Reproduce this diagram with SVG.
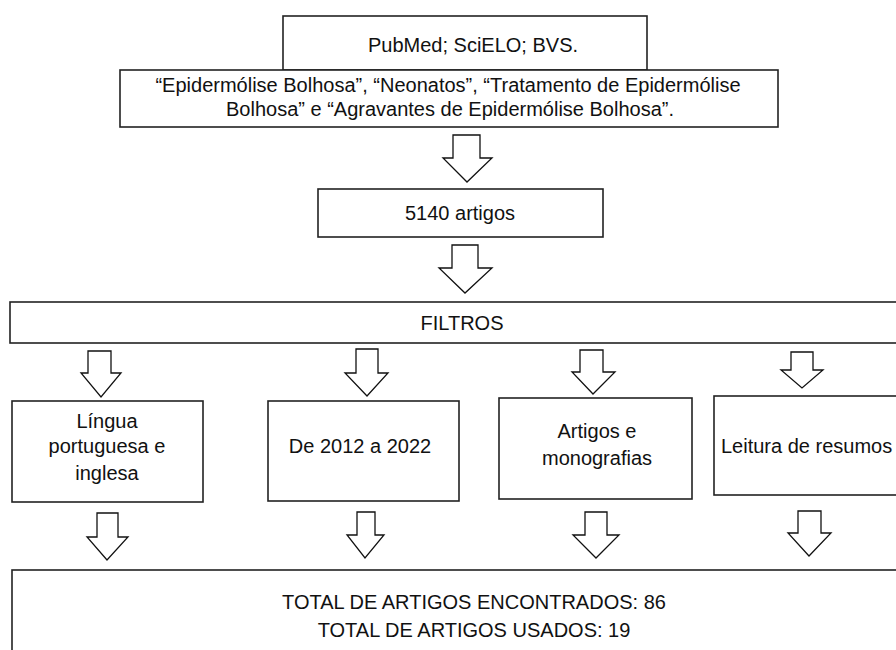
<svg xmlns="http://www.w3.org/2000/svg" width="896" height="650" viewBox="0 0 896 650">
<style>
.box{fill:#fff;stroke:#222;stroke-width:1.6}
.arr{fill:#fff;stroke:#111;stroke-width:1.3;stroke-linejoin:miter}
text{font-family:"Liberation Sans",Arial,sans-serif;font-size:20px;fill:#111}
.c{text-anchor:middle}
</style>
<rect width="896" height="650" fill="#fff"/>
<g id="fontes">
<rect class="box" x="283" y="16" width="364" height="54"/>
<text class="c" x="473" y="52">PubMed; SciELO; BVS.</text>
</g>
<g id="descritores">
<rect class="box" x="120" y="70" width="658" height="57"/>
<text class="c" x="448" y="92">“Epidermólise Bolhosa”, “Neonatos”, “Tratamento de Epidermólise</text>
<text class="c" x="450" y="116">Bolhosa” e “Agravantes de Epidermólise Bolhosa”.</text>
</g>
<g id="artigos">
<rect class="box" x="318" y="189" width="285" height="48"/>
<text class="c" x="460" y="220">5140 artigos</text>
</g>
<g id="filtros">
<rect class="box" x="10" y="302" width="900" height="41"/>
<text class="c" x="462" y="330">FILTROS</text>
</g>
<g id="lingua">
<rect class="box" x="12" y="401" width="191" height="101"/>
<text class="c" x="107" y="428">Língua</text>
<text class="c" x="107" y="453">portuguesa e</text>
<text class="c" x="107" y="480">inglesa</text>
</g>
<g id="periodo">
<rect class="box" x="268" y="401" width="191" height="100"/>
<text class="c" x="360" y="453">De 2012 a 2022</text>
</g>
<g id="tipo">
<rect class="box" x="499" y="398" width="193" height="101"/>
<text class="c" x="597" y="438">Artigos e</text>
<text class="c" x="597" y="465">monografias</text>
</g>
<g id="leitura">
<rect class="box" x="714" y="396" width="200" height="99"/>
<text x="721" y="453">Leitura de resumos</text>
</g>
<g id="total">
<rect class="box" x="12" y="570" width="900" height="100"/>
<text class="c" x="474" y="609">TOTAL DE ARTIGOS ENCONTRADOS: 86</text>
<text class="c" x="474" y="637">TOTAL DE ARTIGOS USADOS: 19</text>
</g>
<g id="conectores">
<polygon class="arr" points="453,135 480,135 480,158 492,158 467,182 443,158 453,158"/>
<polygon class="arr" points="452,245 478,245 478,268 492,268 465,293 439,268 452,268"/>
<polygon class="arr" points="88,351 111,351 111,373 121,373 101,397 81,373 88,373"/>
<polygon class="arr" points="356,349 378,349 378,373 388,373 367,396 345,373 356,373"/>
<polygon class="arr" points="580,350 603,350 603,372 615,372 593,394 572,372 580,372"/>
<polygon class="arr" points="791,352 813,352 813,370 823,370 802,388 781,370 791,370"/>
<polygon class="arr" points="97,513 118,513 118,537 128,537 107,560 87,537 97,537"/>
<polygon class="arr" points="357,512 375,512 375,535 384,535 365,558 347,535 357,535"/>
<polygon class="arr" points="585,512 607,512 607,535 619,535 596,558 573,535 585,535"/>
<polygon class="arr" points="798,511 821,511 821,533 831,533 809,556 788,533 798,533"/>
</g>
</svg>
